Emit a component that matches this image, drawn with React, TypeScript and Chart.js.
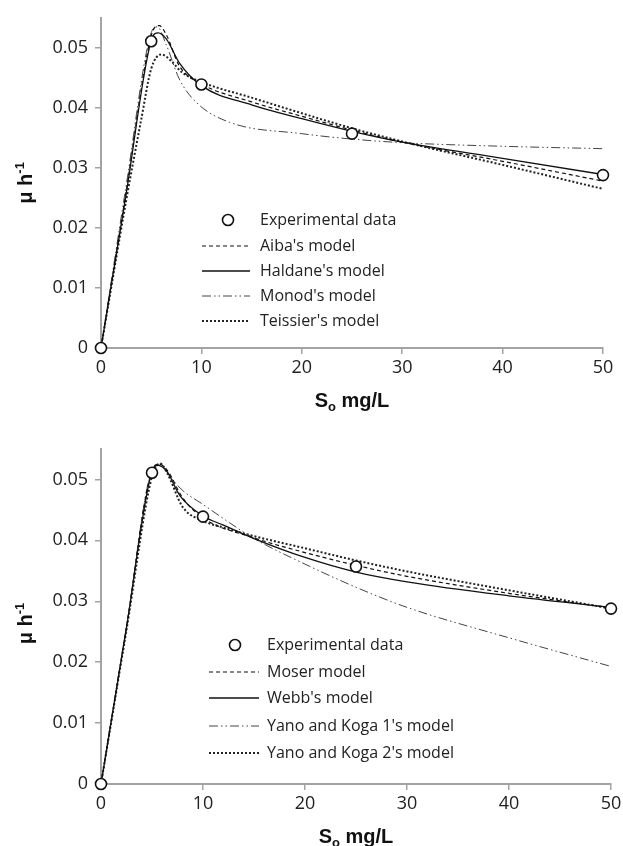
import React, { useEffect, useRef } from 'react';
import { Chart, registerables } from 'chart.js';
Chart.register(...registerables);

// Experimental data (both panels)
const expS = [0, 5, 10, 25, 50];
const expMu = [0, 0.0511, 0.0439, 0.0357, 0.0288];

// Top panel models
const aibaS = [0, 2.5, 5, 5.8, 6.5, 7.8, 10, 15, 20, 25, 30, 40, 50];
const aibaMu = [0, 0.026, 0.052, 0.0537, 0.0522, 0.047, 0.0440, 0.0410, 0.0386, 0.0363, 0.0343, 0.0311, 0.0278];
const haldaneS = [0, 2.5, 5, 5.7, 6.5, 7.8, 10, 15, 20, 25, 30, 40, 50];
const haldaneMu = [0, 0.0256, 0.0512, 0.0525, 0.0515, 0.0475, 0.0437, 0.0405, 0.0382, 0.0361, 0.0343, 0.0316, 0.0289];
const monodS = [0, 2.5, 5, 5.6, 6.5, 7.8, 9.5, 12.8, 20, 25, 30, 40, 50];
const monodMu = [0, 0.027, 0.0525, 0.0535, 0.0505, 0.0448, 0.0409, 0.0376, 0.0357, 0.0348, 0.0342, 0.0336, 0.0332];
const teissierS = [0, 2.5, 4, 5, 6, 7, 8, 10, 15, 20, 25, 30, 40, 50];
const teissierMu = [0, 0.0245, 0.038, 0.0465, 0.0489, 0.0478, 0.046, 0.0443, 0.0417, 0.0391, 0.0366, 0.0344, 0.0305, 0.0265];

// Bottom panel models
const moserS = [0, 2.5, 5, 5.7, 6.5, 8, 10, 15, 20, 25, 30, 40, 50];
const moserMu = [0, 0.0258, 0.0515, 0.0525, 0.0515, 0.047, 0.0437, 0.0404, 0.0380, 0.0359, 0.0341, 0.0313, 0.0289];
const webbS = [0, 2.5, 5, 5.6, 6.5, 7.75, 10, 12, 15, 20, 25, 30, 40, 50];
const webbMu = [0, 0.0257, 0.0513, 0.0523, 0.0512, 0.0473, 0.0440, 0.0425, 0.0403, 0.0372, 0.0348, 0.0332, 0.0309, 0.0290];
const yano1S = [0, 2.5, 5, 5.8, 7, 8, 10, 12.6, 15, 20, 25, 30, 40, 50];
const yano1Mu = [0, 0.0258, 0.0515, 0.0525, 0.0500, 0.0482, 0.0459, 0.0429, 0.0403, 0.0361, 0.0323, 0.0290, 0.0240, 0.0193];
const yano2S = [0, 2.5, 5, 5.8, 6.5, 8, 10, 12, 15, 20, 25, 30, 40, 50];
const yano2Mu = [0, 0.0253, 0.0505, 0.0526, 0.0510, 0.0455, 0.0432, 0.0421, 0.0407, 0.0387, 0.0367, 0.0349, 0.0318, 0.0288];

const xTicks = [0, 10, 20, 30, 40, 50];
const yTicks = [0, 0.01, 0.02, 0.03, 0.04, 0.05];

const dashed = { borderDash: [4, 3], borderWidth: 1.2, borderColor: '#111' };
const solid = { borderDash: [] as number[], borderWidth: 1.3, borderColor: '#111' };
const dashDot = { borderDash: [9, 3, 1.5, 3, 1.5, 3], borderWidth: 1, borderColor: '#444' };
const dotted = { borderDash: [2, 2], borderWidth: 2, borderColor: '#222' };

const toPts = (s: number[], m: number[]) => s.map((x, i) => ({ x, y: m[i] }));

type Series = { label: string; s: number[]; mu: number[]; style: any };
type PanelCfg = {
  series: Series[];
  height: number;
  padTop: number;
  padRight: number;
  xAxisH: number;
  legend: { lx0: number; lx1: number; tx: number; rows: number[]; cx: number };
  yTitleOffset: number;
};

const GRAY = '#a3a3a3';

function makeChart(canvas: HTMLCanvasElement, cfg: PanelCfg) {
  const datasets: any[] = [
    {
      label: 'Experimental data',
      data: toPts(expS, expMu),
      showLine: false,
      pointRadius: 5.5,
      pointBackgroundColor: '#fff',
      pointBorderColor: '#111',
      pointBorderWidth: 1.6,
      clip: false,
    },
    ...cfg.series.map((sr) => ({
      label: sr.label,
      data: toPts(sr.s, sr.mu),
      showLine: true,
      pointRadius: 0,
      fill: false,
      cubicInterpolationMode: 'monotone',
      ...sr.style,
    })),
  ];

  const legendPlugin = {
    id: 'customLegend',
    afterDraw(chart: any) {
      const ctx = chart.ctx;
      const L = cfg.legend;
      ctx.save();
      ctx.font = '16px "Open Sans"';
      ctx.textBaseline = 'middle';
      ctx.textAlign = 'left';
      ctx.beginPath();
      ctx.arc(L.cx, L.rows[0], 5.5, 0, Math.PI * 2);
      ctx.fillStyle = '#fff';
      ctx.fill();
      ctx.lineWidth = 1.6;
      ctx.strokeStyle = '#111';
      ctx.setLineDash([]);
      ctx.stroke();
      ctx.fillStyle = '#222';
      ctx.fillText('Experimental data', L.tx, L.rows[0]);
      cfg.series.forEach((sr, i) => {
        const y = L.rows[i + 1];
        ctx.beginPath();
        ctx.setLineDash(sr.style.borderDash);
        ctx.lineWidth = sr.style.borderWidth;
        ctx.strokeStyle = sr.style.borderColor;
        ctx.moveTo(L.lx0, y);
        ctx.lineTo(L.lx1, y);
        ctx.stroke();
        ctx.setLineDash([]);
        ctx.fillStyle = '#222';
        ctx.fillText(sr.label, L.tx, y);
      });
      const area = chart.chartArea;
      ctx.fillStyle = '#111';
      const big = 'bold 20px "Liberation Sans", Arial, sans-serif';
      const small = 'bold 13px "Liberation Sans", Arial, sans-serif';
      ctx.font = big;
      const wS = ctx.measureText('S').width;
      const wRest = ctx.measureText(' mg/L').width;
      ctx.font = small;
      const wo = ctx.measureText('o').width;
      const total = wS + wo + wRest;
      const cxT = (area.left + area.right) / 2;
      const yT = area.bottom + 52;
      let x = cxT - total / 2;
      ctx.textBaseline = 'alphabetic';
      ctx.font = big;
      ctx.fillText('S', x, yT + 7);
      x += wS;
      ctx.font = small;
      ctx.fillText('o', x, yT + 11);
      x += wo;
      ctx.font = big;
      ctx.fillText(' mg/L', x, yT + 7);
      ctx.save();
      const cyT = (area.top + area.bottom) / 2 + cfg.yTitleOffset;
      ctx.translate(25, cyT);
      ctx.rotate(-Math.PI / 2);
      ctx.font = big;
      const wMu = ctx.measureText('μ h').width;
      ctx.font = small;
      const wSup = ctx.measureText('-1').width;
      const tot2 = wMu + wSup;
      ctx.font = big;
      ctx.fillText('μ h', -tot2 / 2, 7);
      ctx.font = small;
      ctx.fillText('-1', -tot2 / 2 + wMu, -1);
      ctx.restore();
      ctx.restore();
    },
  };

  return new Chart(canvas, {
    type: 'scatter',
    data: { datasets },
    options: {
      animation: false,
      responsive: false,
      devicePixelRatio: 1,
      layout: { padding: { top: cfg.padTop, right: cfg.padRight, left: 0, bottom: 0 } },
      plugins: { legend: { display: false }, tooltip: { enabled: false } },
      scales: {
        x: {
          type: 'linear',
          min: 0,
          max: 50,
          afterFit: (s: any) => {
            s.height = cfg.xAxisH;
            s.paddingLeft = 0;
            s.paddingRight = 0;
          },
          afterBuildTicks: (s: any) => {
            s.ticks = xTicks.map((v) => ({ value: v }));
          },
          border: { color: GRAY, width: 2 },
          grid: { drawOnChartArea: false, drawTicks: true, tickLength: 6, color: GRAY, lineWidth: 1.5 },
          ticks: {
            color: '#222',
            padding: 3,
            font: { family: '"Open Sans"', size: 18 },
            maxRotation: 0,
            callback: (v: any) => String(v),
          },
        },
        y: {
          type: 'linear',
          min: 0,
          max: 0.055,
          afterFit: (s: any) => {
            s.width = 101;
          },
          afterBuildTicks: (s: any) => {
            s.ticks = yTicks.map((v) => ({ value: v }));
          },
          border: { color: GRAY, width: 2 },
          grid: { drawOnChartArea: false, drawTicks: true, tickLength: 6, color: GRAY, lineWidth: 1.5 },
          ticks: {
            color: '#222',
            padding: 7,
            font: { family: '"Open Sans"', size: 18 },
            callback: (v: any) => (Math.abs(v) < 1e-9 ? '0' : Number(v).toFixed(2)),
          },
        },
      },
    } as any,
    plugins: [legendPlugin],
  });
}

const topCfg: PanelCfg = {
  series: [
    { label: "Aiba's model", s: aibaS, mu: aibaMu, style: dashed },
    { label: "Haldane's model", s: haldaneS, mu: haldaneMu, style: solid },
    { label: "Monod's model", s: monodS, mu: monodMu, style: dashDot },
    { label: "Teissier's model", s: teissierS, mu: teissierMu, style: dotted },
  ],
  height: 420,
  padTop: 15,
  padRight: 20,
  xAxisH: 72,
  legend: { lx0: 202, lx1: 250, tx: 260, rows: [220, 246, 271, 296, 321], cx: 228 },
  yTitleOffset: 0,
};

const bottomCfg: PanelCfg = {
  series: [
    { label: 'Moser model', s: moserS, mu: moserMu, style: dashed },
    { label: "Webb's model", s: webbS, mu: webbMu, style: solid },
    { label: "Yano and Koga 1's model", s: yano1S, mu: yano1Mu, style: dashDot },
    { label: "Yano and Koga 2's model", s: yano2S, mu: yano2Mu, style: dotted },
  ],
  height: 426,
  padTop: 29,
  padRight: 12,
  xAxisH: 62,
  legend: { lx0: 209, lx1: 259, tx: 267, rows: [225, 252, 278, 306, 333], cx: 235 },
  yTitleOffset: 7,
};

function Panel({ cfg, top }: { cfg: PanelCfg; top: number }) {
  const ref = useRef<HTMLCanvasElement | null>(null);
  useEffect(() => {
    if (!ref.current) return;
    const ch = makeChart(ref.current, cfg);
    return () => ch.destroy();
  }, [cfg]);
  return (
    <canvas
      ref={ref}
      width={623}
      height={cfg.height}
      style={{ position: 'absolute', left: 0, top, width: 623, height: cfg.height, display: 'block' }}
    />
  );
}

export default function App() {
  return (
    <div style={{ position: 'absolute', left: 0, top: 0, width: 623, height: 846, background: '#fff' }}>
      <Panel cfg={topCfg} top={0} />
      <Panel cfg={bottomCfg} top={420} />
    </div>
  );
}
